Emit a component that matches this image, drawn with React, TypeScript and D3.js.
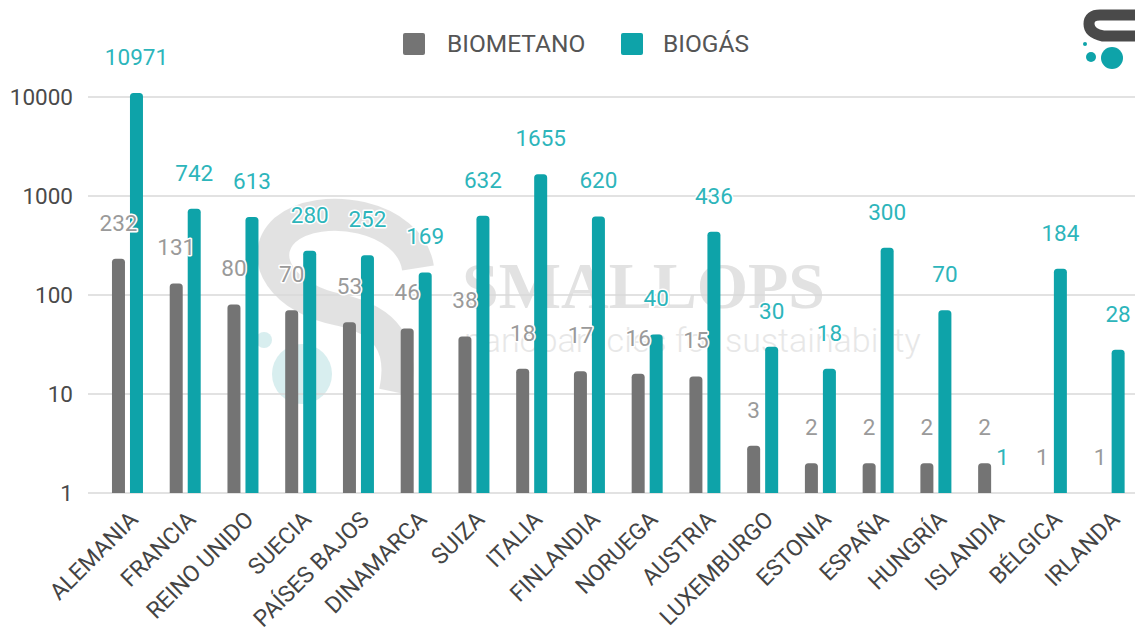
import React from "react";
import * as d3 from "d3";

const countries = [
  "ALEMANIA", "FRANCIA", "REINO UNIDO", "SUECIA", "PAÍSES BAJOS", "DINAMARCA",
  "SUIZA", "ITALIA", "FINLANDIA", "NORUEGA", "AUSTRIA", "LUXEMBURGO",
  "ESTONIA", "ESPAÑA", "HUNGRÍA", "ISLANDIA", "BÉLGICA", "IRLANDA",
];
const biometano = [232, 131, 80, 70, 53, 46, 38, 18, 17, 16, 15, 3, 2, 2, 2, 2, 1, 1];
const biogas = [10971, 742, 613, 280, 252, 169, 632, 1655, 620, 40, 436, 30, 18, 300, 70, 1, 184, 28];
const seriesKeys = ["BIOMETANO", "BIOGÁS"];
const yTicks = [1, 10, 100, 1000, 10000];

const COLORS = ["#747474", "#0ea3a9"];
const LABEL_COLORS = ["#9a9a9a", "#2db5bb"];
const FONT = "Roboto, 'Noto Sans', sans-serif";

function topRounded(x: number, y: number, w: number, h: number, r: number) {
  if (h <= 0) return "";
  const rr = Math.min(r, h, w / 2);
  return `M${x},${y + h}V${y + rr}Q${x},${y} ${x + rr},${y}H${x + w - rr}Q${x + w},${y} ${x + w},${y + rr}V${y + h}Z`;
}

export default function App() {
  const W = 1135, H = 641;
  const x = d3.scaleBand<string>().domain(countries).range([98.6, 1138]).padding(0);
  const y = d3.scaleLog().domain([1, 10000]).range([493, 97]);
  const inner = d3.scaleBand<string>().domain(seriesKeys).range([0, 31]).paddingInner(2 - 31 / 18);
  const series = [biometano, biogas];

  return (
    <div style={{ position: "absolute", left: 0, top: 0 }}>
      <svg width={W} height={H} style={{ display: "block", background: "#fff" }} fontFamily={FONT}>
        {/* watermark */}
        <g opacity={0.6}>
          <path d="M418,268 C410,215 320,200 285,230 C255,258 285,300 340,310 C385,320 405,345 395,392"
            fill="none" stroke="#d0d0d0" strokeWidth={32} />
          <circle cx={302} cy={374} r={30} fill="#bfe3e5" />
          <circle cx={264} cy={340} r={8} fill="#bfe3e5" />
          <text x={462} y={308} fontFamily="'Liberation Serif', 'DejaVu Serif', serif" fontSize={66}
            fill="#cfcfcf" fontWeight="bold">SMALLOPS</text>
          <text x={464} y={352} fontSize={34} fill="#d8d8d8" fontWeight={300}>nanoparticles for sustainability</text>
        </g>

        {/* grid + y axis */}
        {yTicks.map((t) => (
          <g key={t}>
            <line x1={88} x2={W} y1={y(t)} y2={y(t)} stroke="#d9d9d9" strokeWidth={1.5} />
            <text x={73} y={y(t)} dy="0.35em" textAnchor="end" fontSize={22.5} fill="#4a4a4a">{t}</text>
          </g>
        ))}

        {/* bars */}
        {countries.map((c, i) => {
          const gx = (x(c) as number) + x.bandwidth() / 2 - 15.5;
          return (
            <g key={c}>
              {series.map((s, k) => {
                const bx = gx + (inner(seriesKeys[k]) as number);
                const top = y(s[i]);
                return (
                  <path key={k} d={topRounded(bx, top, inner.bandwidth(), y(1) - top, 3.5)} fill={COLORS[k]} />
                );
              })}
            </g>
          );
        })}

        {/* value labels */}
        {countries.map((c, i) => {
          const gx = (x(c) as number) + x.bandwidth() / 2 - 15.5;
          return (
            <g key={c + "l"}>
              {series.map((s, k) => {
                const cx = gx + (inner(seriesKeys[k]) as number) + inner.bandwidth() / 2;
                return (
                  <text key={k} x={cx} y={y(s[i]) - 36} dy="0.35em" textAnchor="middle" fontSize={22.5}
                    fill={LABEL_COLORS[k]} stroke="#fff" strokeWidth={3} paintOrder="stroke"
                    strokeLinejoin="round">{s[i]}</text>
                );
              })}
            </g>
          );
        })}

        {/* x labels */}
        {countries.map((c) => {
          const cx = (x(c) as number) + x.bandwidth() / 2;
          return (
            <text key={c + "x"} transform={`translate(${cx + 12},${521}) rotate(-45)`} textAnchor="end"
              fontSize={23} fill="#444">{c}</text>
          );
        })}

        {/* legend */}
        <rect x={403} y={33} width={22} height={22} rx={2} fill={COLORS[0]} />
        <text x={447} y={52} fontSize={24.5} fill="#555">{seriesKeys[0]}</text>
        <rect x={621} y={33} width={22} height={22} rx={2} fill={COLORS[1]} />
        <text x={663} y={52} fontSize={24.5} fill="#555">{seriesKeys[1]}</text>

        {/* logo */}
        <path d="M1140,15 H1100 Q1089,15 1089,24 Q1089,33 1103,36 H1140" fill="none" stroke="#4a4a4a" strokeWidth={11} />
        <circle cx={1112} cy={58} r={11} fill="#0ea3a9" />
        <circle cx={1091} cy={57} r={5} fill="#0ea3a9" />
        <circle cx={1085} cy={44} r={2} fill="#0ea3a9" />
      </svg>
    </div>
  );
}
